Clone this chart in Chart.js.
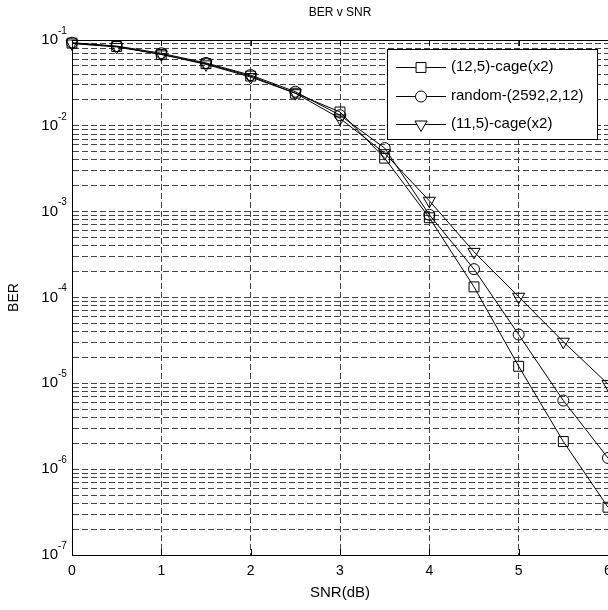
<!DOCTYPE html>
<html>
<head>
<meta charset="utf-8">
<script src="https://cdn.jsdelivr.net/npm/chart.js@4/dist/chart.umd.min.js"></script>
<style>
  html, body { margin: 0; padding: 0; background: #fff; width: 608px; height: 610px; overflow: hidden; }
  canvas { display: block; }
</style>
</head>
<body>
<canvas id="c" width="680" height="610"></canvas>
<script>
// ---- data ----
const snr = [0, 0.5, 1, 1.5, 2, 2.5, 3, 3.5, 4, 4.5, 5, 5.5, 6];
const seriesLabels = ['(12,5)-cage(x2)', 'random-(2592,2,12)', '(11,5)-cage(x2)'];
const berCage12  = [0.092, 0.084, 0.068, 0.053, 0.038, 0.024, 0.0145, 0.0042, 0.00085, 0.000133, 1.58e-5, 2.1e-6, 3.6e-7];
const berRandom  = [0.093, 0.085, 0.070, 0.054, 0.039, 0.025, 0.0133, 0.0055, 0.00092, 0.000214, 3.7e-5, 6.3e-6, 1.35e-6];
const berCage11  = [0.091, 0.083, 0.068, 0.052, 0.037, 0.024, 0.0122, 0.0048, 0.00134, 0.00034, 0.000102, 3.05e-5, 9.8e-6];
const xTicks = [0, 1, 2, 3, 4, 5, 6];
const yExponents = [-7, -6, -5, -4, -3, -2, -1];
const titleText = 'BER v SNR';
const xTitle = 'SNR(dB)';
const yTitle = 'BER';

const FONT = '"Liberation Sans", Arial, Helvetica, sans-serif';
Chart.defaults.font.family = FONT;
Chart.defaults.color = '#000';

function pts(arr) { return snr.map((s, i) => ({ x: s, y: arr[i] })); }

// minor/major log ticks: 1..9 x 10^e
const yTickValues = [];
yExponents.forEach((e, idx) => {
  if (idx === yExponents.length - 1) { yTickValues.push(Math.pow(10, e)); return; }
  for (let m = 1; m <= 9; m++) yTickValues.push(Number((m * Math.pow(10, e)).toPrecision(3)));
});

const markerStyles = [
  { pointStyle: 'rect', pointRadius: 7, pointRotation: 0 },
  { pointStyle: 'circle', pointRadius: 5.5, pointRotation: 0 },
  { pointStyle: 'triangle', pointRadius: 7, pointRotation: 180 }
];
const seriesData = [berCage12, berRandom, berCage11];

const datasets = seriesData.map((arr, i) => ({
  label: seriesLabels[i],
  data: pts(arr),
  borderColor: '#000',
  borderWidth: 1,
  backgroundColor: 'rgba(0,0,0,0)',
  pointBackgroundColor: 'rgba(0,0,0,0)',
  pointBorderColor: '#000',
  pointBorderWidth: 1,
  pointHoverRadius: markerStyles[i].pointRadius,
  pointStyle: markerStyles[i].pointStyle,
  pointRadius: markerStyles[i].pointRadius,
  pointRotation: markerStyles[i].pointRotation,
  tension: 0,
  clip: false
}));

const decorations = {
  id: 'decorations',
  afterDraw(chart) {
    const { ctx, chartArea: a, scales: { x, y } } = chart;
    ctx.save();
    ctx.strokeStyle = '#000';
    ctx.lineWidth = 1;
    // top border of the box
    ctx.beginPath();
    ctx.moveTo(a.left, Math.round(a.top) + 0.5);
    ctx.lineTo(a.right + 2, Math.round(a.top) + 0.5);
    ctx.stroke();
    // inward x ticks (bottom and top)
    xTicks.forEach(v => {
      const px = Math.round(x.getPixelForValue(v)) + 0.5;
      ctx.beginPath();
      ctx.moveTo(px, a.bottom); ctx.lineTo(px, a.bottom - 6);
      ctx.moveTo(px, a.top); ctx.lineTo(px, a.top + 6);
      ctx.stroke();
    });
    // y tick labels as 10^e
    ctx.fillStyle = '#000';
    ctx.textBaseline = 'middle';
    yExponents.forEach(e => {
      const py = y.getPixelForValue(Math.pow(10, e));
      const expStr = String(e);
      ctx.font = '10px ' + FONT;
      ctx.textAlign = 'left';
      ctx.fillText(expStr, 58, py - 9);
      ctx.font = '15px ' + FONT;
      ctx.textAlign = 'right';
      ctx.fillText('10', 58, py);
    });
    // legend box
    const lx = 387, ly = 49, lw = 210, lh = 90;
    ctx.fillStyle = '#fff';
    ctx.fillRect(lx, ly, lw, lh);
    ctx.strokeStyle = '#000';
    ctx.strokeRect(lx + 0.5, ly + 0.5, lw, lh);
    const rows = [67, 95.5, 124];
    chart.data.datasets.forEach((ds, i) => {
      const ry = rows[i];
      ctx.strokeStyle = '#000';
      ctx.lineWidth = 1;
      ctx.beginPath();
      ctx.moveTo(396, Math.round(ry) + 0.5);
      ctx.lineTo(446, Math.round(ry) + 0.5);
      ctx.stroke();
      ctx.fillStyle = '#fff';
      Chart.helpers.drawPoint(ctx, {
        pointStyle: ds.pointStyle, radius: ds.pointRadius, rotation: ds.pointRotation, borderWidth: 1
      }, 421, Math.round(ry) + 0.5);
      ctx.fillStyle = '#000';
      ctx.font = '15px ' + FONT;
      ctx.textAlign = 'left';
      ctx.textBaseline = 'middle';
      ctx.fillText(ds.label, 451, ry);
    });
    ctx.restore();
  }
};

new Chart(document.getElementById('c'), {
  type: 'line',
  data: { datasets },
  options: {
    responsive: false,
    animation: false,
    devicePixelRatio: 1,
    layout: { padding: 0 },
    plugins: {
      legend: { display: false },
      tooltip: { enabled: false },
      title: {
        display: true,
        text: titleText,
        color: '#000',
        font: { size: 12, weight: 'normal', family: FONT },
        padding: { top: 5, bottom: 20.6 }
      }
    },
    scales: {
      x: {
        type: 'linear',
        min: 0, max: 6,
        afterBuildTicks: s => { s.ticks = xTicks.map(v => ({ value: v })); },
        afterFit: s => { s.height = 55; },
        ticks: { font: { size: 14 }, color: '#000', padding: 8, autoSkip: false, maxRotation: 0 },
        grid: { color: '#444', lineWidth: 1, drawTicks: false },
        border: { display: true, color: '#000', width: 1, dash: [6, 3] },
        title: { display: true, text: xTitle, color: '#000', font: { size: 15 }, padding: { top: 0, bottom: 8 } }
      },
      y: {
        type: 'logarithmic',
        position: 'left',
        min: 1e-7, max: 1e-1,
        afterBuildTicks: s => { s.ticks = yTickValues.map(v => ({ value: v })); },
        afterFit: s => { s.width = 72; },
        ticks: { display: false, autoSkip: false },
        grid: { color: '#444', lineWidth: 1, drawTicks: false },
        border: { display: true, color: '#000', width: 1, dash: [6, 3] },
        title: { display: true, text: yTitle, color: '#000', font: { size: 14 }, padding: { top: 6, bottom: 0 } }
      },
      yRight: {
        type: 'linear',
        position: 'right',
        display: true,
        min: 0, max: 1,
        afterFit: s => { s.width = 72; },
        ticks: { display: false },
        grid: { display: false, drawOnChartArea: false, drawTicks: false },
        border: { display: false }
      }
    }
  },
  plugins: [decorations]
});
</script>
</body>
</html>
